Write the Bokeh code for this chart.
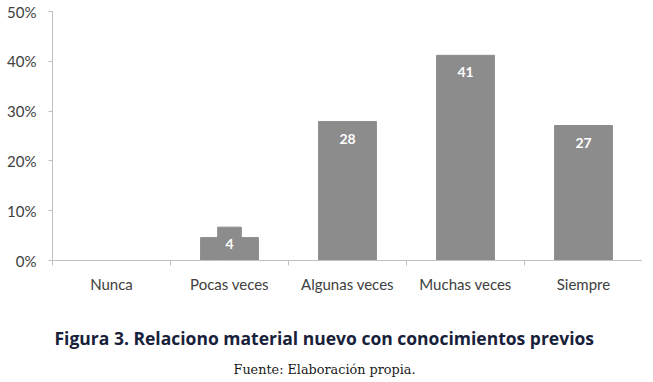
from bokeh.plotting import figure
from bokeh.models import FixedTicker, PrintfTickFormatter, ColumnDataSource, LabelSet, Title, Range1d
from bokeh.core.properties import value
from bokeh.embed import file_html
from bokeh.resources import INLINE

categories = ["Nunca", "Pocas veces", "Algunas veces", "Muchas veces", "Siempre"]
bar_values = [0, 4.6, 27.9, 41.2, 27.1]
step_values = [0, 6.7, 0, 0, 0]
label_texts = ["", "4", "28", "41", "27"]
y_ticks = [0, 10, 20, 30, 40, 50]
title_text = "Figura 3. Relaciono material nuevo con conocimientos previos"
source_text = "Fuente: Elaboración propia."

xs = [i + 0.5 for i in range(len(categories))]
anchors = [max(a, b) for a, b in zip(bar_values, step_values)]
lab_x = [x for x, t in zip(xs, label_texts) if t]
lab_y = [y for y, t in zip(anchors, label_texts) if t]
lab_t = [t for t in label_texts if t]

p = figure(width=642, height=381, output_backend="svg", toolbar_location=None,
           x_range=Range1d(0, len(categories)), y_range=Range1d(0, 50),
           min_border_left=52, min_border_right=0, min_border_top=11, min_border_bottom=0)
p.outline_line_color = None
p.xgrid.visible = False
p.ygrid.visible = False
p.background_fill_color = "white"
p.border_fill_color = "white"

bar_color = "#8c8c8c"
p.vbar(x=xs, top=bar_values, width=0.49, color=bar_color)
p.vbar(x=xs, top=step_values, width=0.2, color=bar_color)

src = ColumnDataSource(dict(x=lab_x, y=lab_y, t=lab_t))
p.add_layout(LabelSet(x="x", y="y", text="t", source=src, y_offset=-17,
                      text_align="center", text_baseline="middle",
                      text_color="white", text_font=value("Lato"), text_font_style="bold",
                      text_font_size="14px"))

axis_color = "#c0c0c0"
lab_color = "#404040"
xa = p.xaxis[0]
xa.ticker = FixedTicker(ticks=xs, minor_ticks=list(range(len(categories) + 1)))
xa.major_label_overrides = {x: c for x, c in zip(xs, categories)}
xa.major_tick_line_color = None
xa.minor_tick_line_color = axis_color
xa.minor_tick_out = 5
xa.minor_tick_in = 0
xa.axis_line_color = axis_color
xa.major_label_text_font = "Lato"
xa.major_label_text_font_size = "15px"
xa.major_label_text_color = lab_color
xa.major_label_standoff = 8
# spacer between tick labels and the caption
xa.axis_label = " "
xa.axis_label_text_font_size = "10px"
xa.axis_label_standoff = 8

ya = p.yaxis[0]
ya.ticker = FixedTicker(ticks=y_ticks)
ya.formatter = PrintfTickFormatter(format="%d%%")
ya.minor_tick_line_color = None
ya.major_tick_line_color = axis_color
ya.major_tick_out = 4
ya.major_tick_in = 0
ya.axis_line_color = axis_color
ya.major_label_text_font = "Lato"
ya.major_label_text_font_size = "15px"
ya.major_label_text_color = lab_color
ya.major_label_standoff = 12

p.add_layout(Title(text=title_text, align="left", text_font="Open Sans",
                   text_font_style="bold", text_font_size="17.5px", text_color="#18213a",
                   standoff=12, offset=2), "below")
p.add_layout(Title(text=source_text, align="left", text_font="DejaVu Serif",
                   text_font_style="normal", text_font_size="12.8px", text_color="#1a1a1a",
                   standoff=9, offset=181), "below")

open("out.html", "w").write(file_html(p, INLINE))
